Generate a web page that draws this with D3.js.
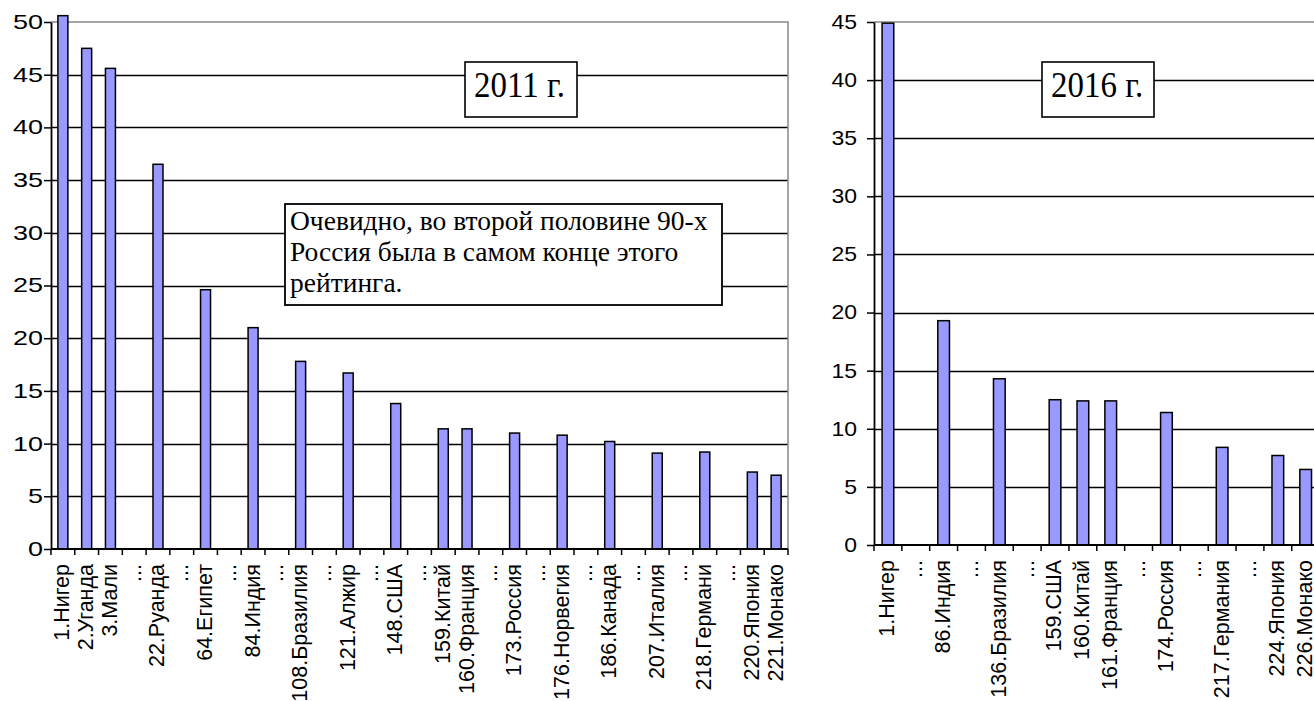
<!DOCTYPE html>
<html>
<head>
<meta charset="utf-8">
<script src="https://cdn.jsdelivr.net/npm/d3@7"></script>
<style>
  body { margin: 0; background: #fff; }
</style>
</head>
<body>
<div id="chart"></div>
<script>
// 2011 ranking (categories and values, "..." = skipped places)
var labels2011 = ["1.Нигер", "2.Уганда", "3.Мали", "...", "22.Руанда", "...", "64.Египет", "...",
  "84.Индия", "...", "108.Бразилия", "...", "121.Алжир", "...", "148.США", "...", "159.Китай",
  "160.Франция", "...", "173.Россия", "...", "176.Норвегия", "...", "186.Канада", "...",
  "207.Италия", "...", "218.Германи", "...", "220.Япония", "221.Монако"];
var values2011 = [50.6, 47.5, 45.6, null, 36.5, null, 24.6, null,
  21.0, null, 17.8, null, 16.7, null, 13.8, null, 11.4,
  11.4, null, 11.0, null, 10.8, null, 10.2, null,
  9.1, null, 9.2, null, 7.3, 7.0];
var ticks2011 = [0, 5, 10, 15, 20, 25, 30, 35, 40, 45, 50];

// 2016 ranking
var labels2016 = ["1.Нигер", "...", "86.Индия", "...", "136.Бразилия", "...", "159.США", "160.Китай",
  "161.Франция", "...", "174.Россия", "...", "217.Германия", "...", "224.Япония", "226.Монако"];
var values2016 = [44.9, null, 19.3, null, 14.3, null, 12.5, 12.4,
  12.4, null, 11.4, null, 8.4, null, 7.7, 6.5];
var ticks2016 = [0, 5, 10, 15, 20, 25, 30, 35, 40, 45];

var note2011 = ["Очевидно, во второй половине 90-х", "Россия была в самом конце этого", "рейтинга."];

var sansFont = "'Liberation Sans', Arial, sans-serif";
var serifFont = "'Liberation Serif', 'Times New Roman', serif";

var svg = d3.select("#chart")
  .append("svg")
    .attr("width", 1314)
    .attr("height", 701)
    .style("background", "#fff");

function drawChart(opt) {
  var g = svg.append("g");
  var n = opt.labels.length;
  var maxTick = opt.ticks[opt.ticks.length - 1];

  var x = d3.scaleBand()
    .domain(d3.range(n))
    .range([opt.left, opt.right]);

  var y = d3.scaleLinear()
    .domain([0, maxTick])
    .range([opt.bottom, opt.top]);

  // horizontal gridlines
  g.selectAll(".grid")
    .data(opt.ticks.filter(d => d > 0 && d < maxTick))
    .enter().append("line")
      .attr("x1", opt.left)
      .attr("x2", opt.right)
      .attr("y1", d => Math.round(y(d)) + 0.5)
      .attr("y2", d => Math.round(y(d)) + 0.5)
      .attr("stroke", "#000")
      .attr("stroke-width", 1.4);

  // grey plot area border (top and right)
  g.append("path")
    .attr("d", "M" + opt.left + "," + y(maxTick) + "H" + opt.right + "V" + y(0))
    .attr("fill", "none")
    .attr("stroke", "#888")
    .attr("stroke-width", 1.5);

  // bars
  var bw = x.bandwidth();
  g.selectAll(".bar")
    .data(opt.values.map((v, i) => ({ i: i, v: v })).filter(d => d.v != null))
    .enter().append("rect")
      .attr("x", d => x(d.i) + bw * 0.29)
      .attr("width", bw * 0.42)
      .attr("y", d => y(d.v))
      .attr("height", d => y(0) - y(d.v))
      .attr("fill", "#9999ff")
      .attr("stroke", "#000")
      .attr("stroke-width", 1.5);

  // y axis
  var yAxis = g.append("g")
    .attr("transform", "translate(" + opt.left + ",0)")
    .call(d3.axisLeft(y).tickValues(opt.ticks).tickSize(7).tickSizeOuter(0));
  yAxis.select(".domain").attr("stroke-width", 1.8);
  yAxis.selectAll(".tick line").attr("stroke-width", 1.5);
  yAxis.selectAll("text")
    .attr("x", 0)
    .attr("transform", "translate(" + (-opt.labelGap) + ",0) scale(" + opt.tickStretch + ",1)")
    .style("font-family", sansFont)
    .style("font-size", "20px")
    .attr("fill", "#000");

  // x axis: baseline and ticks on the category boundaries
  var xg = g.append("g");
  xg.append("line")
    .attr("x1", opt.left)
    .attr("x2", opt.right)
    .attr("y1", y(0))
    .attr("y2", y(0))
    .attr("stroke", "#000")
    .attr("stroke-width", 1.8);

  var bounds = d3.range(n).map(i => x(i)).concat([x.range()[1]]);
  xg.selectAll(".xtick")
    .data(bounds)
    .enter().append("line")
      .attr("x1", d => d)
      .attr("x2", d => d)
      .attr("y1", y(0))
      .attr("y2", y(0) + 6)
      .attr("stroke", "#000")
      .attr("stroke-width", 1.5);

  // rotated category labels
  xg.selectAll(".xlabel")
    .data(opt.labels)
    .enter().append("text")
      .attr("transform", (d, i) => "translate(" + (x(i) + bw / 2) + "," + (y(0) + 15) + ") rotate(-90)")
      .attr("dy", "0.3em")
      .style("text-anchor", "end")
      .style("font-family", sansFont)
      .style("font-size", "21.5px")
      .text(d => d);

  return { g: g, x: x, y: y };
}

var left = drawChart({
  labels: labels2011, values: values2011, ticks: ticks2011,
  left: 51, right: 788, top: 22, bottom: 549,
  labelGap: 8, tickStretch: 1.35
});

var right = drawChart({
  labels: labels2016, values: values2016, ticks: ticks2016,
  left: 874, right: 1319.6, top: 22, bottom: 545,
  labelGap: 17, tickStretch: 1.15
});

// year boxes
function yearBox(g, bx, by, txt) {
  g.append("rect")
    .attr("x", bx)
    .attr("y", by)
    .attr("width", 112)
    .attr("height", 55)
    .attr("fill", "#fff")
    .attr("stroke", "#000")
    .attr("stroke-width", 1.6);
  g.append("text")
    .attr("transform", "translate(" + (bx + 9) + "," + (by + 35) + ") scale(1.03,1.12)")
    .style("font-family", serifFont)
    .style("font-size", "32px")
    .text(txt);
}
yearBox(left.g, 465, 62, "2011 г.");
yearBox(right.g, 1042, 62, "2016 г.");

// note box on the 2011 chart
left.g.append("rect")
  .attr("x", 285)
  .attr("y", 204)
  .attr("width", 437)
  .attr("height", 101)
  .attr("fill", "#fff")
  .attr("stroke", "#000")
  .attr("stroke-width", 1.8);

left.g.append("text")
  .style("font-family", serifFont)
  .style("font-size", "27.5px")
  .selectAll("tspan")
  .data(note2011)
  .enter().append("tspan")
    .attr("x", 290)
    .attr("y", (d, i) => 230 + i * 31)
    .text(d => d);
</script>
</body>
</html>
